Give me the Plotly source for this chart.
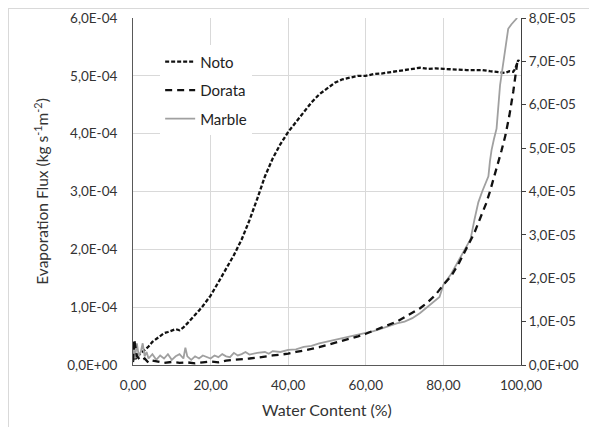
import plotly.graph_objects as go

# ---- data ----
noto_x = [0, 0.3, 0.6, 1, 2, 3, 4, 5, 6, 7, 8, 9, 10, 11, 12, 13, 14, 15, 16, 17, 18, 19, 20,
          22, 24, 26, 28, 30, 32, 34, 36, 38, 40, 42, 44, 46, 48, 50, 52, 54, 56, 58, 60,
          62, 64, 66, 68, 70, 72, 74, 76, 78, 80, 82, 84, 86, 88, 90, 92, 94, 96, 97, 98,
          98.5, 99, 99.3, 99.5]
noto_y = [0.05e-4, 0.30e-4, 0.10e-4, 0.15e-4, 0.20e-4, 0.26e-4, 0.32e-4, 0.40e-4, 0.45e-4,
          0.50e-4, 0.55e-4, 0.57e-4, 0.60e-4, 0.62e-4, 0.60e-4, 0.65e-4, 0.72e-4, 0.79e-4,
          0.86e-4, 0.94e-4, 1.02e-4, 1.10e-4, 1.20e-4, 1.43e-4, 1.67e-4, 1.90e-4, 2.17e-4,
          2.50e-4, 2.87e-4, 3.26e-4, 3.57e-4, 3.82e-4, 4.03e-4, 4.20e-4, 4.38e-4, 4.54e-4,
          4.68e-4, 4.78e-4, 4.88e-4, 4.94e-4, 4.97e-4, 5.00e-4, 5.00e-4, 5.03e-4, 5.04e-4,
          5.06e-4, 5.08e-4, 5.10e-4, 5.12e-4, 5.14e-4, 5.12e-4, 5.13e-4, 5.12e-4, 5.11e-4,
          5.11e-4, 5.10e-4, 5.10e-4, 5.10e-4, 5.08e-4, 5.07e-4, 5.05e-4, 5.08e-4, 5.07e-4,
          5.12e-4, 5.20e-4, 5.27e-4, 5.25e-4]

dorata_x = [0, 0.3, 1, 2, 3, 4, 5, 6, 8, 10, 12, 14, 16, 18, 20, 22, 24, 26, 28, 30, 32, 34,
            36, 38, 40, 42, 44, 46, 48, 50, 52, 54, 56, 58, 60, 62, 64, 66, 68, 70, 72, 74,
            76, 78, 80, 82, 84, 86, 88, 90, 91, 92, 93, 94, 95, 96, 97, 98, 98.5, 99, 99.3]
dorata_y = [0.10e-5, 0.60e-5, 0.20e-5, 0.10e-5, 0.15e-5, 0.05e-5, 0.10e-5, 0.08e-5, 0.05e-5,
            0.07e-5, 0.05e-5, 0.06e-5, 0.04e-5, 0.06e-5, 0.08e-5, 0.06e-5, 0.10e-5, 0.12e-5,
            0.13e-5, 0.15e-5, 0.17e-5, 0.20e-5, 0.22e-5, 0.24e-5, 0.26e-5, 0.30e-5, 0.33e-5,
            0.37e-5, 0.41e-5, 0.46e-5, 0.50e-5, 0.55e-5, 0.60e-5, 0.66e-5, 0.72e-5, 0.79e-5,
            0.86e-5, 0.93e-5, 1.00e-5, 1.10e-5, 1.20e-5, 1.31e-5, 1.45e-5, 1.62e-5, 1.85e-5,
            2.05e-5, 2.35e-5, 2.70e-5, 3.05e-5, 3.50e-5, 3.72e-5, 4.00e-5, 4.30e-5, 4.60e-5,
            4.95e-5, 5.30e-5, 5.75e-5, 6.30e-5, 6.64e-5, 6.95e-5, 7.05e-5]

marble_x = [0, 0.2, 0.5, 1, 1.5, 2, 2.5, 3, 3.5, 4, 5, 6, 7, 8, 9, 10, 11, 12, 13, 13.5, 14,
            15, 16, 17, 18, 19, 20, 21, 22, 23, 24, 25, 26, 27, 28, 29, 30, 32, 34, 35, 36,
            38, 40, 42, 44, 46, 48, 50, 52, 54, 56, 58, 60, 62, 64, 66, 68, 70, 72, 74, 76,
            78, 79, 80, 82, 84, 86, 87, 88, 89, 90, 91, 91.6, 92, 92.4, 93, 93.7, 94.6, 95.5,
            96.2, 96.7, 97.5, 98.5, 99]
marble_y = [0.10e-5, 0.35e-5, 0.15e-5, 0.50e-5, 0.20e-5, 0.30e-5, 0.50e-5, 0.20e-5, 0.30e-5,
            0.15e-5, 0.25e-5, 0.12e-5, 0.22e-5, 0.15e-5, 0.25e-5, 0.12e-5, 0.20e-5, 0.25e-5,
            0.15e-5, 0.40e-5, 0.20e-5, 0.12e-5, 0.20e-5, 0.15e-5, 0.22e-5, 0.18e-5, 0.15e-5,
            0.22e-5, 0.18e-5, 0.25e-5, 0.20e-5, 0.18e-5, 0.28e-5, 0.22e-5, 0.25e-5, 0.30e-5,
            0.24e-5, 0.28e-5, 0.30e-5, 0.26e-5, 0.32e-5, 0.30e-5, 0.35e-5, 0.36e-5, 0.42e-5,
            0.44e-5, 0.50e-5, 0.54e-5, 0.58e-5, 0.62e-5, 0.66e-5, 0.70e-5, 0.74e-5, 0.78e-5,
            0.84e-5, 0.90e-5, 0.96e-5, 1.00e-5, 1.08e-5, 1.20e-5, 1.34e-5, 1.50e-5, 1.57e-5,
            1.85e-5, 2.10e-5, 2.42e-5, 2.72e-5, 2.90e-5, 3.35e-5, 3.75e-5, 4.00e-5, 4.20e-5,
            4.35e-5, 4.70e-5, 4.95e-5, 5.20e-5, 5.45e-5, 6.45e-5, 7.05e-5, 7.50e-5, 7.75e-5,
            7.85e-5, 7.95e-5, 8.00e-5]

x_ticks = [0, 20, 40, 60, 80, 100]
x_ticktext = ["0,00", "20,00", "40,00", "60,00", "80,00", "100,00"]
y1_ticks = [0, 1e-4, 2e-4, 3e-4, 4e-4, 5e-4, 6e-4]
y1_ticktext = ["0,0E+00", "1,0E-04", "2,0E-04", "3,0E-04", "4,0E-04", "5,0E-04", "6,0E-04"]
y2_ticks = [0, 1e-5, 2e-5, 3e-5, 4e-5, 5e-5, 6e-5, 7e-5, 8e-5]
y2_ticktext = ["0,0E+00", "1,0E-05", "2,0E-05", "3,0E-05", "4,0E-05", "5,0E-05",
               "6,0E-05", "7,0E-05", "8,0E-05"]

FONT = "Lato, 'Open Sans', sans-serif"
TXT = "#333333"

fig = go.Figure()
fig.add_trace(go.Scatter(x=marble_x, y=marble_y, name="Marble", yaxis="y2", mode="lines",
                         line=dict(color="#a0a0a0", width=1.8), legendgroup="c",
                         legendrank=3))
fig.add_trace(go.Scatter(x=dorata_x, y=dorata_y, name="Dorata", yaxis="y2", mode="lines",
                         line=dict(color="#111111", width=2.3, dash="7px,5px"),
                         legendgroup="b", legendrank=2))
fig.add_trace(go.Scatter(x=noto_x, y=noto_y, name="Noto", mode="lines",
                         line=dict(color="#111111", width=2.3, dash="4px,2px"),
                         legendgroup="a", legendrank=1))

fig.update_layout(
    width=589, height=419,
    margin=dict(l=125, r=76, t=10, b=62),
    paper_bgcolor="white", plot_bgcolor="white",
    font=dict(family=FONT, size=13, color=TXT),
    showlegend=True,
    legend=dict(x=0.07, y=0.921, xanchor="left", yanchor="top",
                bgcolor="white", borderwidth=0, tracegroupgap=6,
                font=dict(family=FONT, size=15, color="#222222")),
    xaxis=dict(range=[0, 100], tickvals=x_ticks, ticktext=x_ticktext,
               automargin=False,
               showgrid=True, gridcolor="#d9d9d9", gridwidth=1,
               showline=True, linecolor="#595959", linewidth=1,
               ticks="outside", ticklen=8, tickcolor="rgba(0,0,0,0)",
               zeroline=False,
               tickfont=dict(size=13.5, color=TXT),
               title=dict(text="Water Content (%)", font=dict(size=16, color=TXT),
                          standoff=12)),
    yaxis=dict(range=[0, 6e-4], tickvals=y1_ticks, ticktext=y1_ticktext,
               automargin=False,
               showgrid=True, gridcolor="#d9d9d9", gridwidth=1,
               showline=True, linecolor="#595959", linewidth=1,
               ticks="outside", ticklen=12, tickcolor="rgba(0,0,0,0)",
               zeroline=False,
               tickfont=dict(size=13.5, color=TXT),
               title=dict(text="Evaporation Flux (kg s<sup>-1</sup>m<sup>-2</sup>)",
                          font=dict(size=15.5, color=TXT), standoff=14)),
    yaxis2=dict(range=[0, 8e-5], tickvals=y2_ticks, ticktext=y2_ticktext,
                automargin=False,
                overlaying="y", side="right", showgrid=False,
                showline=True, linecolor="#404040", linewidth=1,
                ticks="outside", ticklen=4, tickcolor="#404040",
                zeroline=False,
                tickfont=dict(size=13.5, color=TXT)),
    shapes=[
        dict(type="line", xref="paper", yref="paper",
             x0=-0.321, x1=1.2, y0=1.0274, y1=1.0274,
             line=dict(color="#d9d9d9", width=1), layer="below"),
        dict(type="line", xref="paper", yref="paper",
             x0=-0.3209, x1=-0.3209, y0=1.03, y1=-0.2,
             line=dict(color="#d9d9d9", width=1), layer="below"),
    ],
)

fig.write_html("out.html")
